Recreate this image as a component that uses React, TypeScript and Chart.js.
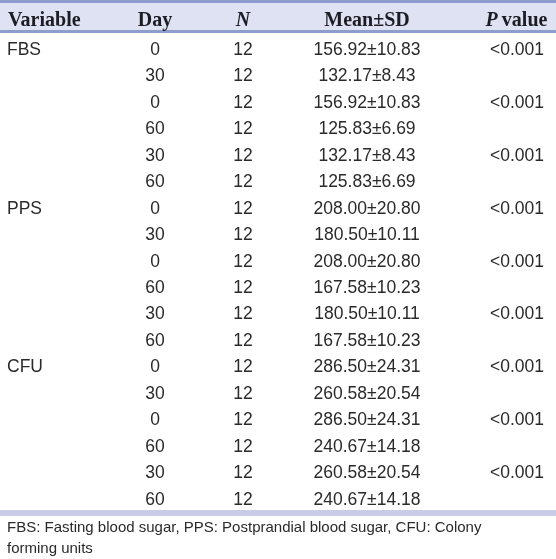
import React, { useEffect, useRef } from "react";
import { Chart, registerables } from "chart.js";

Chart.register(...registerables);

// ---- data ----
const variableLabels = ["FBS", "", "", "", "", "", "PPS", "", "", "", "", "", "CFU", "", "", "", "", ""];
const days = [0, 30, 0, 60, 30, 60, 0, 30, 0, 60, 30, 60, 0, 30, 0, 60, 30, 60];
const nValues = [12, 12, 12, 12, 12, 12, 12, 12, 12, 12, 12, 12, 12, 12, 12, 12, 12, 12];
const meanValues = [156.92, 132.17, 156.92, 125.83, 132.17, 125.83, 208.0, 180.5, 208.0, 167.58, 180.5, 167.58, 286.5, 260.58, 286.5, 240.67, 260.58, 240.67];
const sdValues = [10.83, 8.43, 10.83, 6.69, 8.43, 6.69, 20.8, 10.11, 20.8, 10.23, 10.11, 10.23, 24.31, 20.54, 24.31, 14.18, 20.54, 14.18];
const pValues = ["<0.001", "", "<0.001", "", "<0.001", "", "<0.001", "", "<0.001", "", "<0.001", "", "<0.001", "", "<0.001", "", "<0.001", ""];
const headers = ["Variable", "Day", "N", "Mean±SD", "P value"];
const footerLines = [
  "FBS: Fasting blood sugar, PPS: Postprandial blood sugar, CFU: Colony",
  "forming units",
];

const rowKeys = days.map((_, i) => "row" + i);

// ---- layout (not data) ----
const W = 556;
const H = 559;
const COL_X = [7, 155, 243, 367, 517];
const COL_ALIGN: CanvasTextAlign[] = ["left", "center", "center", "center", "center"];
const BODY_FONT = '17.5px "Liberation Sans", Arial, sans-serif';
const HEAD_FONT_SIZE = 20;
const FOOT_FONT = '15px "Liberation Sans", Arial, sans-serif';
const TEXT_COLOR = "#2a2a2a";

const columnTexts: string[][] = [
  variableLabels,
  days.map((d) => String(d)),
  nValues.map((n) => String(n)),
  meanValues.map((m, i) => m.toFixed(2) + "±" + sdValues[i].toFixed(2)),
  pValues,
];

const tablePlugin = {
  id: "tablePlugin",
  beforeDraw(chart: any) {
    const ctx = chart.ctx;
    const area = chart.chartArea;
    ctx.save();
    ctx.fillStyle = "#ffffff";
    ctx.fillRect(0, 0, W, H);
    const headBottom = area.top - 3;
    ctx.fillStyle = "#8e9bd0";
    ctx.fillRect(0, 0, W, 3);
    ctx.fillStyle = "#dfe2f3";
    ctx.fillRect(0, 3, W, headBottom - 6);
    ctx.fillStyle = "#8f9dcc";
    ctx.fillRect(0, headBottom - 3, W, 3);
    ctx.fillStyle = "#c8cce9";
    ctx.fillRect(0, area.bottom - 2, W, 6);
    ctx.restore();
  },
  afterDraw(chart: any) {
    const ctx = chart.ctx;
    const area = chart.chartArea;
    ctx.save();
    const headY = 26;
    ctx.fillStyle = "#1c1c24";
    ctx.textBaseline = "alphabetic";
    const bold = `bold ${HEAD_FONT_SIZE}px "Liberation Serif", "Times New Roman", serif`;
    const boldItalic = `italic bold ${HEAD_FONT_SIZE}px "Liberation Serif", "Times New Roman", serif`;
    headers.forEach((h, c) => {
      const x = chart.scales.x.getPixelForValue(COL_X[c]);
      if (h === "N") {
        ctx.font = boldItalic;
        ctx.textAlign = "center";
        ctx.fillText(h, x, headY);
      } else if (h === "P value") {
        ctx.font = boldItalic;
        const wP = ctx.measureText("P").width;
        ctx.font = bold;
        const wRest = ctx.measureText(" value").width;
        const start = x - (wP + wRest) / 2;
        ctx.textAlign = "left";
        ctx.font = boldItalic;
        ctx.fillText("P", start, headY);
        ctx.font = bold;
        ctx.fillText(" value", start + wP - 1, headY);
      } else {
        ctx.font = bold;
        ctx.textAlign = COL_ALIGN[c];
        ctx.fillText(h, COL_ALIGN[c] === "left" ? x + 1 : x, headY);
      }
    });
    ctx.font = BODY_FONT;
    ctx.fillStyle = TEXT_COLOR;
    ctx.textBaseline = "middle";
    columnTexts.forEach((texts, c) => {
      const meta = chart.getDatasetMeta(c);
      ctx.textAlign = COL_ALIGN[c];
      meta.data.forEach((el: any, r: number) => {
        const t = texts[r];
        if (t) ctx.fillText(t, el.x, el.y + 1);
      });
    });
    ctx.font = FOOT_FONT;
    ctx.fillStyle = "#2a2a2a";
    ctx.textAlign = "left";
    footerLines.forEach((line, i) => {
      ctx.fillText(line, 7, area.bottom + 16 + i * 21);
    });
    ctx.restore();
  },
};

export default function App() {
  const ref = useRef<HTMLCanvasElement | null>(null);
  useEffect(() => {
    document.body.style.margin = "0";
    const canvas = ref.current!;
    const datasets = columnTexts.map((_, c) => ({
      label: headers[c],
      data: rowKeys.map((k) => ({ x: COL_X[c], y: k })),
      pointRadius: 0,
      showLine: false,
    }));
    const chart = new Chart(canvas, {
      type: "scatter",
      data: { labels: rowKeys, datasets } as any,
      options: {
        animation: false,
        responsive: false,
        maintainAspectRatio: false,
        layout: { padding: { top: 36, bottom: 47, left: 0, right: 0 } },
        plugins: { legend: { display: false }, tooltip: { enabled: false } },
        events: [],
        scales: {
          x: { type: "linear", min: 0, max: W, display: false },
          y: { type: "category", labels: rowKeys, offset: true, display: false },
        },
      } as any,
      plugins: [tablePlugin],
    });
    return () => chart.destroy();
  }, []);
  return (
    <div style={{ width: W, height: H }}>
      <canvas ref={ref} width={W} height={H} style={{ display: "block", width: W, height: H }} />
    </div>
  );
}
